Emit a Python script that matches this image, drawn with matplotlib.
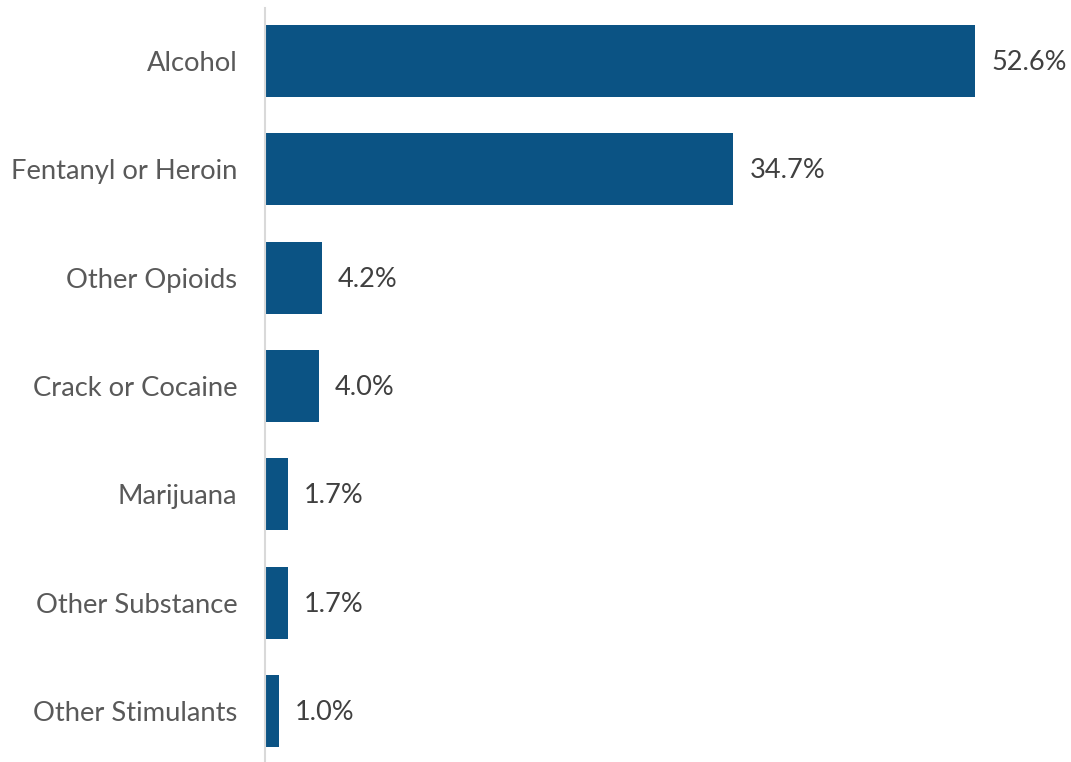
import matplotlib.pyplot as plt

categories = ["Alcohol", "Fentanyl or Heroin", "Other Opioids", "Crack or Cocaine",
              "Marijuana", "Other Substance", "Other Stimulants"]
percents = [52.6, 34.7, 4.2, 4.0, 1.7, 1.7, 1.0]

bar_color = "#0b5384"
plt.rcParams["font.family"] = ["Lato", "DejaVu Sans"]

fig = plt.figure(figsize=(10.71, 7.62), dpi=100)
ax = fig.add_axes([265 / 1071, 0, 1 - 265 / 1071, 754 / 762])

y = range(len(categories))
ax.barh(y, percents, height=0.665, color=bar_color)

for yi, v in zip(y, percents):
    ax.annotate(f"{v:.1f}%", (v, yi), xytext=(11.5, -1), textcoords="offset points",
                ha="left", va="center", fontsize=19.5, color="#404040")

ax.set_yticks(list(y))
ax.set_yticklabels(categories, fontsize=19.7, color="#595959")
ax.tick_params(axis="y", length=0, pad=20)
ax.set_xticks([])
ax.set_xlim(0, 59.7)
ax.set_ylim(6.47, -0.49)

for s in ["top", "right", "bottom"]:
    ax.spines[s].set_visible(False)
ax.spines["left"].set_color("#d9d9d9")
ax.spines["left"].set_linewidth(1.5)

fig.savefig("out.png", dpi=100)
